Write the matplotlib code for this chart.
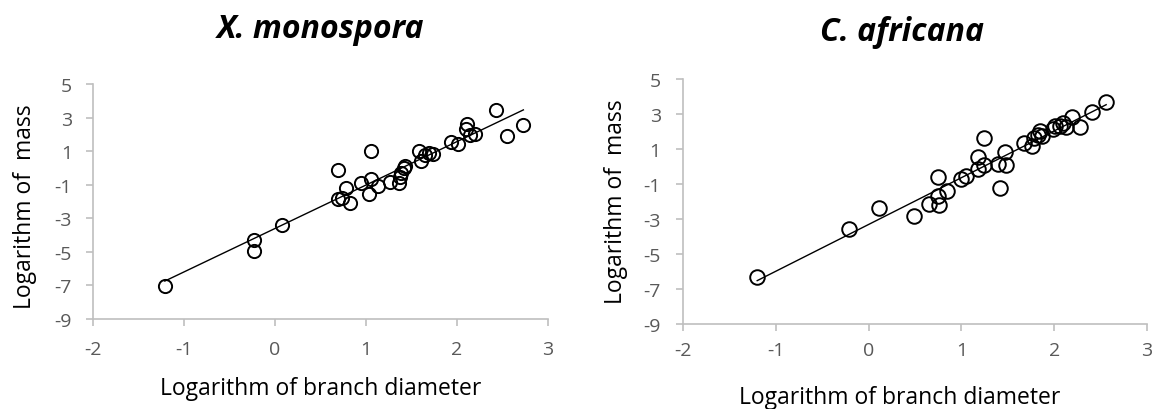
import numpy as np
import matplotlib
matplotlib.use("Agg")
import matplotlib.pyplot as plt

# X. monospora
xm_x = [-1.21, -0.23, -0.23, 0.08, 0.69, 0.69, 0.74, 0.78, 0.82, 0.95, 1.03, 1.06, 1.06,
        1.13, 1.26, 1.36, 1.37, 1.39, 1.42, 1.43, 1.58, 1.60, 1.65, 1.69, 1.74, 1.93,
        2.01, 2.11, 2.10, 2.14, 2.20, 2.43, 2.55, 2.73]
xm_y = [-7.04, -4.29, -4.93, -3.42, -0.11, -1.87, -1.77, -1.17, -2.06, -0.91, -1.57, 1.02, -0.67,
        -1.07, -0.83, -0.87, -0.57, -0.31, -0.03, 0.12, 0.98, 0.42, 0.76, 0.88, 0.82, 1.56,
        1.42, 2.61, 2.31, 1.98, 2.01, 3.45, 1.92, 2.55]

# C. africana
ca_x = [-1.20, -0.21, 0.11, 0.49, 0.65, 0.75, 0.75, 0.76, 0.85, 1.00, 1.05, 1.18, 1.18,
        1.24, 1.24, 1.40, 1.42, 1.47, 1.48, 1.67, 1.76, 1.78, 1.83, 1.85, 1.87, 1.99,
        2.01, 2.06, 2.10, 2.13, 2.19, 2.28, 2.41, 2.56]
ca_y = [-6.33, -3.59, -2.39, -2.81, -2.12, -0.60, -1.67, -2.18, -1.38, -0.71, -0.52, 0.52, -0.14,
        1.61, 0.09, 0.14, -1.25, 0.81, 0.10, 1.32, 1.15, 1.61, 1.80, 2.05, 1.76, 2.14,
        2.33, 2.30, 2.49, 2.24, 2.81, 2.24, 3.10, 3.67]

xticks = [-2, -1, 0, 1, 2, 3]
yticks = [-9, -7, -5, -3, -1, 1, 3, 5]

plt.rcParams['font.family'] = ['Open Sans', 'DejaVu Sans']
plt.rcParams['axes.unicode_minus'] = False
grey = '#bfbfbf'
tickcol = '#595959'

fig = plt.figure(figsize=(11.56, 4.10), dpi=100)
ax1 = fig.add_axes([0.0804, 0.2195, 0.3936, 0.5732])
ax2 = fig.add_axes([0.5908, 0.2073, 0.4014, 0.5976])


def panel(ax, x, y, ms, xpad, ypad):
    x = np.array(x)
    y = np.array(y)
    k, b = np.polyfit(x, y, 1)
    xl = np.array([x.min(), x.max()])
    ax.plot(xl, k * xl + b, color='black', lw=1.0, zorder=2)
    ax.plot(x, y, 'o', ms=ms, mfc='none', mec='black', mew=1.4, zorder=3)
    ax.set_xlim(-2, 3)
    ax.set_ylim(-9, 5)
    ax.set_xticks(xticks)
    ax.set_yticks(yticks)
    for s in ['top', 'right']:
        ax.spines[s].set_visible(False)
    for s in ['left', 'bottom']:
        ax.spines[s].set_color(grey)
        ax.spines[s].set_linewidth(1.2)
    ax.tick_params(colors=grey, labelcolor=tickcol, labelsize=14, length=5, width=1.2)
    ax.tick_params(axis='x', pad=xpad)
    ax.tick_params(axis='y', pad=ypad)


panel(ax1, xm_x, xm_y, 9.5, 10, 10)
panel(ax2, ca_x, ca_y, 10.5, 7, 11)

fig.text(0.277, 0.927, 'X. monospora', ha='center', va='center', fontsize=23,
         fontweight='bold', fontstyle='italic')
fig.text(0.780, 0.92, 'C. africana', ha='center', va='center', fontsize=23,
         fontweight='bold', fontstyle='italic')

fig.text(0.277, 0.051, 'Logarithm of branch diameter', ha='center', va='center', fontsize=16.5)
fig.text(0.778, 0.029, 'Logarithm of branch diameter', ha='center', va='center', fontsize=16.5)
fig.text(0.0216, 0.495, 'Logarithm of  mass', ha='center', va='center', rotation=90, fontsize=16.5)
fig.text(0.533, 0.507, 'Logarithm of  mass', ha='center', va='center', rotation=90, fontsize=16.5)

fig.savefig('out.png', dpi=100)
